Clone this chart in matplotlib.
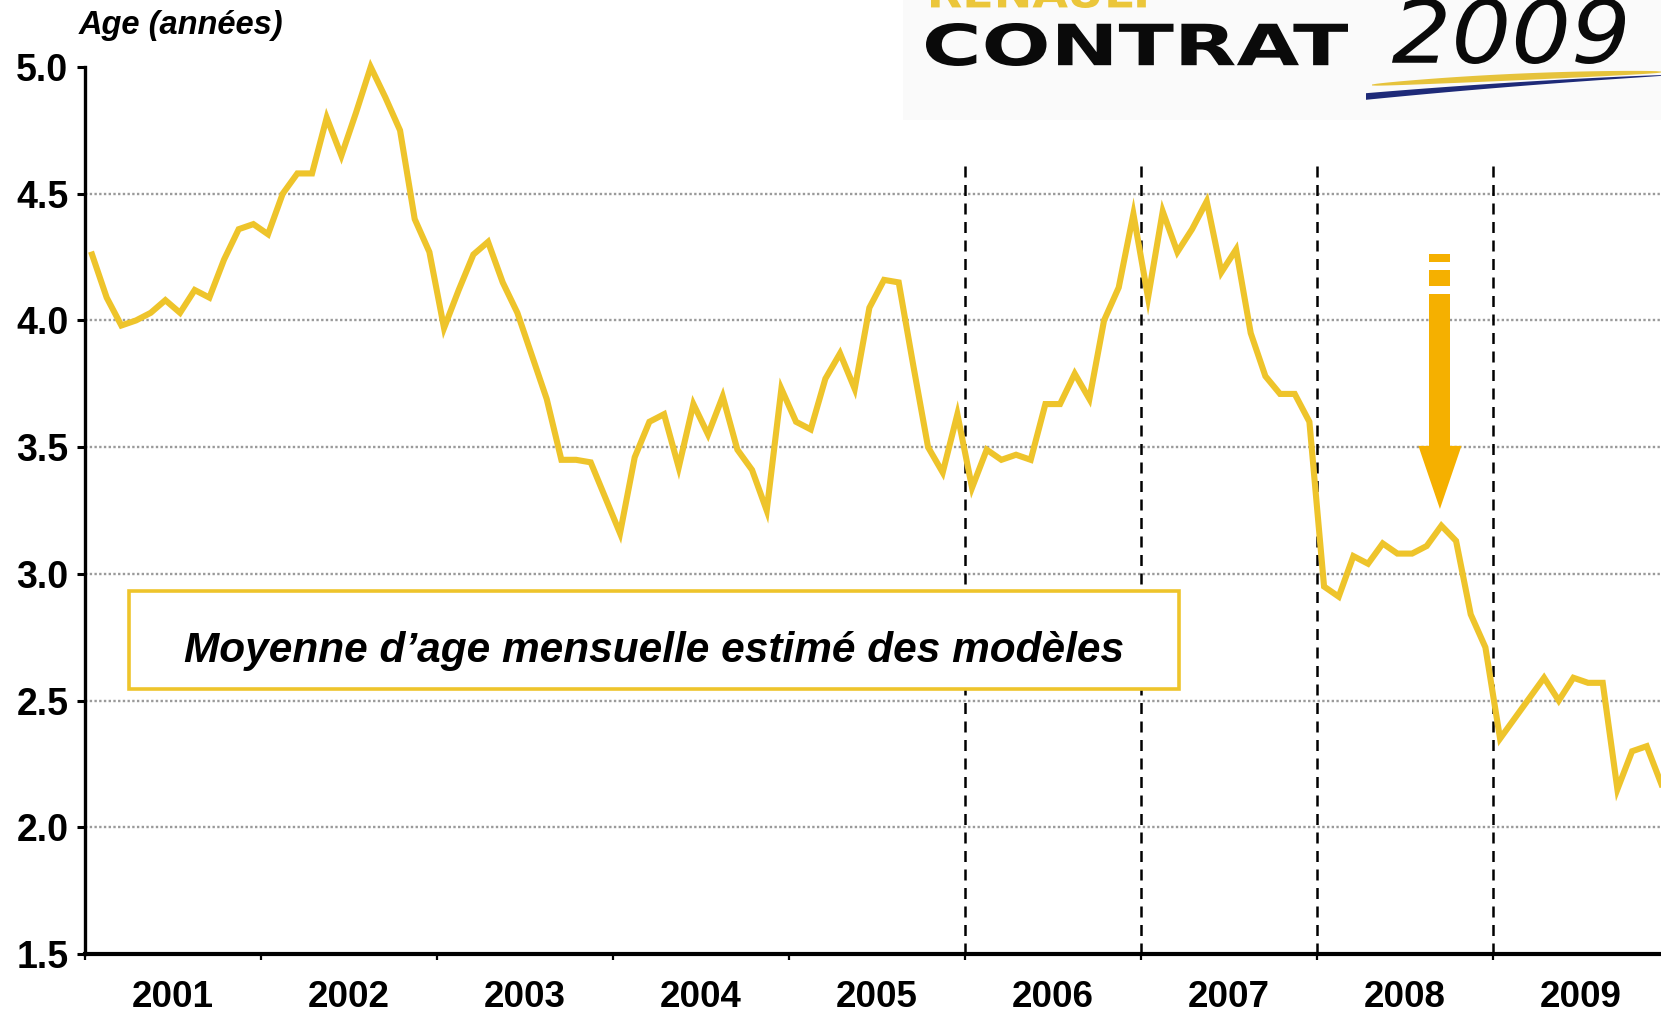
import numpy as np
import matplotlib
matplotlib.use("Agg")
import matplotlib.pyplot as plt
from matplotlib.patches import Rectangle, Polygon, PathPatch
from matplotlib.textpath import TextPath
from matplotlib.font_manager import FontProperties
from matplotlib.transforms import Affine2D

plt.rcParams['font.family'] = ['Liberation Sans', 'DejaVu Sans']

# --- data -------------------------------------------------------------
years = ['2001', '2002', '2003', '2004', '2005', '2006', '2007', '2008', '2009']

# moyenne d'age mensuelle (années), une valeur par mois, janv. 2001 -> déc. 2009
age_mensuel = [
    4.26, 4.09, 3.98, 4.00, 4.03, 4.08, 4.03, 4.12, 4.09, 4.24, 4.36, 4.38,
    4.34, 4.50, 4.58, 4.58, 4.80, 4.65, 4.82, 5.00, 4.88, 4.75, 4.40, 4.27,
    3.97, 4.12, 4.26, 4.31, 4.15, 4.03, 3.86, 3.69, 3.45, 3.45, 3.44, 3.30,
    3.16, 3.46, 3.60, 3.63, 3.42, 3.67, 3.55, 3.70, 3.49, 3.41, 3.25, 3.73,
    3.60, 3.57, 3.77, 3.87, 3.73, 4.05, 4.16, 4.15, 3.82, 3.50, 3.40, 3.63,
    3.34, 3.49, 3.45, 3.47, 3.45, 3.67, 3.67, 3.79, 3.69, 4.00, 4.13, 4.42,
    4.09, 4.43, 4.27, 4.36, 4.47, 4.19, 4.28, 3.95, 3.78, 3.71, 3.71, 3.60,
    2.95, 2.91, 3.07, 3.04, 3.12, 3.08, 3.08, 3.11, 3.19, 3.13, 2.84, 2.71,
    2.35, 2.43, 2.51, 2.59, 2.50, 2.59, 2.57, 2.57, 2.15, 2.30, 2.32, 2.17,
]

y_ticks = [1.5, 2.0, 2.5, 3.0, 3.5, 4.0, 4.5, 5.0]
y_grid = [2.0, 2.5, 3.0, 3.5, 4.0, 4.5]
separations = ['2006', '2007', '2008', '2009']   # dashed lines at start of these years

LINE = '#EEC42B'
ARROW = '#F5B000'

W, H = 1661, 1015
fig = plt.figure(figsize=(W / 100, H / 100), dpi=100)
fig.patch.set_facecolor('white')

n_months = 12 * len(years)
ax = fig.add_axes([84.7 / W, 61 / H, n_months * 14.667 / W, 887 / H])
ax.set_xlim(0, n_months)
ax.set_ylim(1.5, 5.0)

x = np.arange(len(age_mensuel)) + 0.5

# grid + separators
ax.hlines(y_grid, 0, n_months, colors='#9a9a9a', linestyles=(0, (1.0, 1.0)), lw=1.7, zorder=1)
sep_x = [12 * years.index(s) for s in separations]
ax.vlines(sep_x, 1.5, 4.62, colors='black', linestyles=(0, (4.4, 3.0)), lw=1.8, zorder=1)

# legend box
ax.add_patch(Rectangle((3.02, 2.545), 71.6, 0.387, facecolor='white',
                       edgecolor=LINE, lw=2.6, zorder=2))
ax.text(38.8, 2.695, 'Moyenne d\u2019age mensuelle estimé des modèles',
        ha='center', va='center', fontsize=30.5, fontweight='bold',
        fontstyle='italic', zorder=2.5)

ax.plot(x, age_mensuel, color=LINE, lw=4.4, solid_joinstyle='miter',
        zorder=3, clip_on=False)

# arrow pointing at the 2008 peak
ax_c, hw, hh = 92.4, 0.72, 1.47
ax.add_patch(Rectangle((ax_c - hw, 4.230), 2 * hw, 0.032, color=ARROW, lw=0, zorder=4))
ax.add_patch(Rectangle((ax_c - hw, 4.136), 2 * hw, 0.063, color=ARROW, lw=0, zorder=4))
ax.add_patch(Rectangle((ax_c - hw, 3.50), 2 * hw, 0.604, color=ARROW, lw=0, zorder=4))
ax.add_patch(Polygon([(ax_c - hh, 3.505), (ax_c + hh, 3.505), (ax_c, 3.256)],
                     closed=True, color=ARROW, lw=0, zorder=4))

# axes styling
for s in ['top', 'right']:
    ax.spines[s].set_visible(False)
ax.spines['left'].set_linewidth(2.4)
ax.spines['bottom'].set_linewidth(3.0)
ax.set_yticks(y_ticks)
ax.set_yticklabels([f'{v:.1f}' for v in y_ticks], fontsize=27, fontweight='bold')
ax.tick_params(axis='y', direction='out', length=5.8, width=2.2, pad=6)
ax.set_xticks(np.arange(0, n_months + 1, 12))
ax.set_xticklabels([])
ax.tick_params(axis='x', which='major', direction='out', length=4.5, width=1.6)
ax.set_xticks(np.arange(6, n_months, 12), minor=True)
ax.set_xticklabels(years, minor=True, fontsize=26.5, fontweight='bold')
ax.tick_params(axis='x', which='minor', length=0, pad=19)

# overlay in pixel coordinates for header / logo
ov = fig.add_axes([0, 0, 1, 1], zorder=10)
ov.set_xlim(0, W)
ov.set_ylim(H, 0)
ov.axis('off')
ov.patch.set_alpha(0)

ov.text(79, 25, 'Age (années)', fontsize=23.5, fontweight='bold',
        fontstyle='italic', ha='left', va='center')

ov.add_patch(Rectangle((903, 0), W - 903, 120, facecolor='#FAFAFA', lw=0, zorder=0))


def fitted_text(s, box, color, **fp):
    tp = TextPath((0, 0), s, size=100, prop=FontProperties(**fp))
    ext = tp.get_extents()
    x0, y0, x1, y1 = box
    tr = (Affine2D().translate(-ext.x0, -ext.y1)
          .scale((x1 - x0) / ext.width, -(y1 - y0) / ext.height)
          .translate(x0, y0))
    ov.add_patch(PathPatch(tr.transform_path(tp), facecolor=color, lw=0, zorder=2))


fitted_text('RENAULT', (931, -22, 1157, 8), '#EBC63A', family='DejaVu Sans', weight='bold')
fitted_text('CONTRAT', (926, 23, 1348, 66), '#0a0a0a', family='DejaVu Sans', weight='bold')
fitted_text('2009', (1392, -2, 1625, 64), '#0a0a0a', family='DejaVu Sans', style='oblique')

t = np.linspace(0, 1, 60)
xs = 1372 + (W - 1372) * t
yc = 85 - 13 * t - 6 * t * (1 - t)
half = 0.5 + 2.8 * np.sin(np.pi * t) ** 0.6
ov.add_patch(Polygon(np.column_stack([np.r_[xs, xs[::-1]], np.r_[yc - half, (yc + half)[::-1]]]),
                     closed=True, facecolor='#E6C33C', lw=0, zorder=2))
xs = 1366 + (W - 1366) * t
yc = 96.5 - 21 * t - 6 * t * (1 - t)
half = 0.4 + 2.9 * (1 - t) ** 0.8
ov.add_patch(Polygon(np.column_stack([np.r_[xs, xs[::-1]], np.r_[yc - half, (yc + half)[::-1]]]),
                     closed=True, facecolor='#1E2A78', lw=0, zorder=2))

fig.savefig('out.png', dpi=100)
